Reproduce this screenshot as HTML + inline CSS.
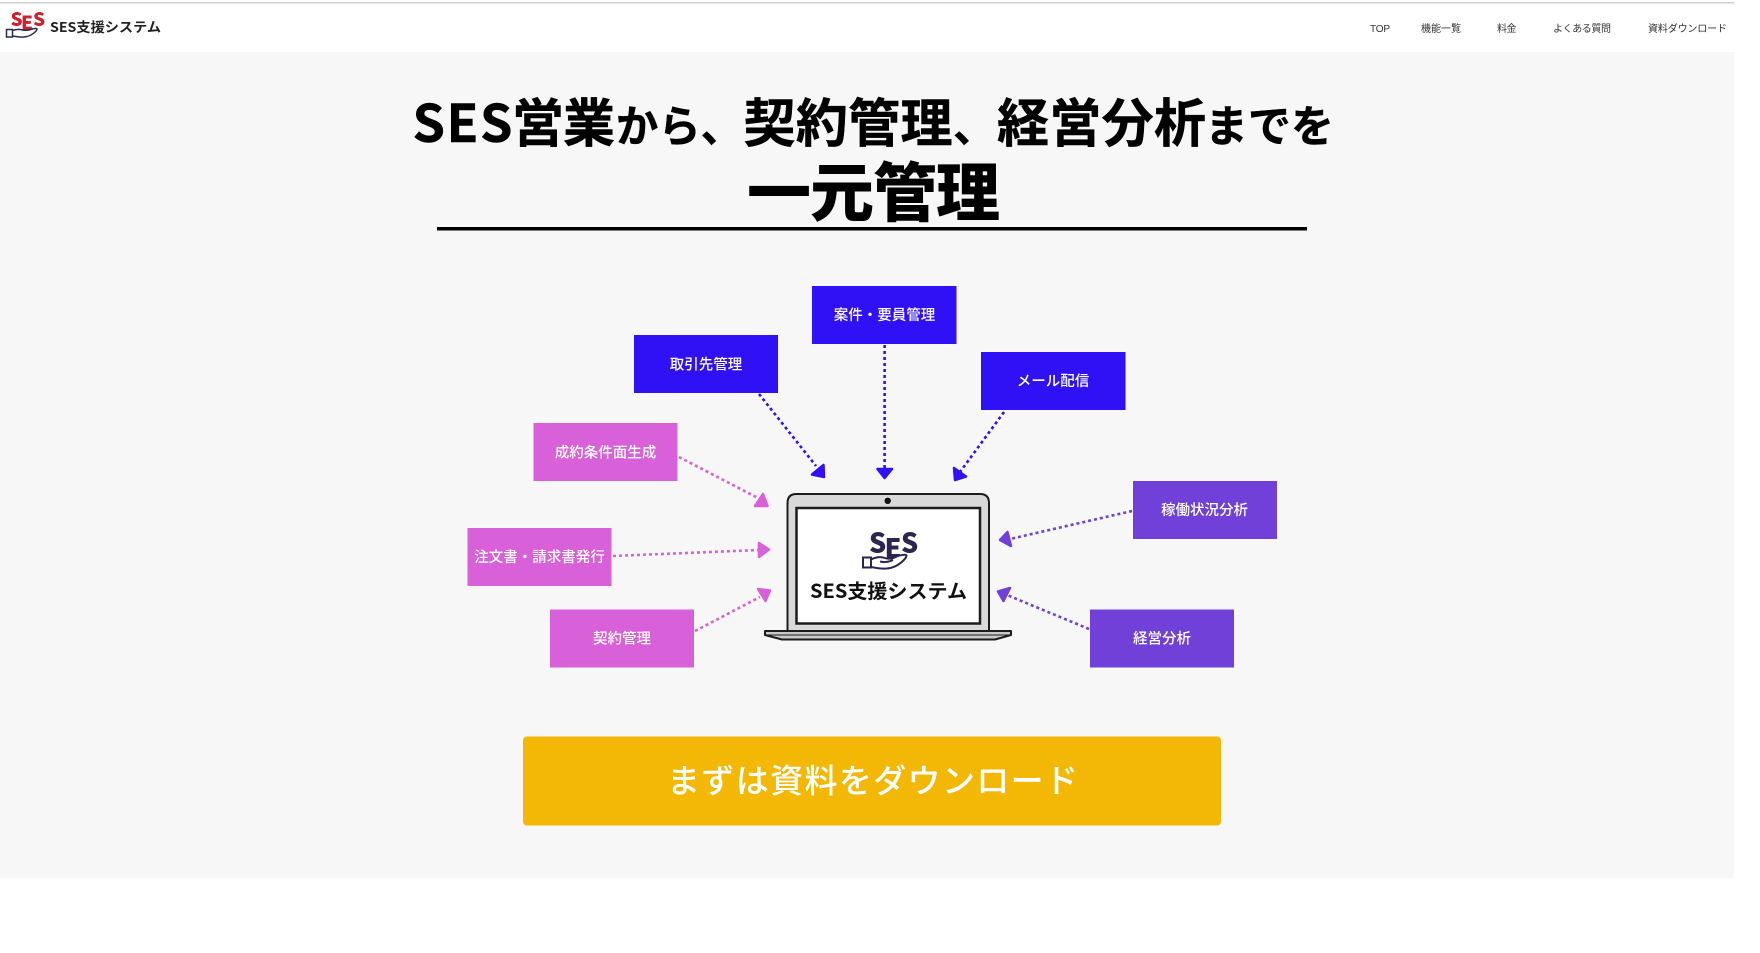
<!DOCTYPE html>
<html lang="ja">
<head>
<meta charset="utf-8">
<title>SES支援システム</title>
<style>
html,body{margin:0;padding:0;background:#fff;width:1760px;height:953px;overflow:hidden}
svg{display:block}
text{font-family:"Liberation Sans","Noto Sans CJK JP",sans-serif}
.jp{font-family:"Noto Sans CJK JP","Liberation Sans",sans-serif}
.lb{font-size:14.5px;font-weight:500;fill:#fff;text-anchor:middle}
.nav{font-size:10px;fill:#333}
.t{font-size:52px;font-weight:700;fill:#000;stroke:#000;stroke-width:.5px}
.k{font-size:43.5px;font-weight:700;fill:#000;stroke:#000;stroke-width:.4px}
</style>
</head>
<body>
<svg width="1760" height="953" viewBox="0 0 1760 953" xmlns="http://www.w3.org/2000/svg">
<rect width="1760" height="953" fill="#fff"/>
<rect x="0" y="52" width="1734" height="826" fill="#f7f7f7"/>
<rect x="0" y="2" width="1734" height="1.5" fill="#cfcfcf"/>

<!-- header logo -->
<text class="jp" x="10.500" y="26" font-size="19" font-weight="900" fill="#d0202e">S</text>
<text class="jp" x="21" y="29.500" font-size="19" font-weight="900" fill="#d0202e">E</text>
<text class="jp" x="33" y="26" font-size="19" font-weight="900" fill="#d0202e">S</text>
<path d="M6.500 29.500h6v7.500h-6z M12.500 30.500c4-1.500 7-1.500 10-.5 3 .5 5 .5 8-.5 3-1 6.500-1.500 6.500-.5 0 2-6 7.500-13 8-5 .5-8-.5-11.500-1z" fill="none" stroke="#2d2a55" stroke-width="1.500"/>
<text class="jp" x="50" y="32" font-size="13.500" font-weight="700" fill="#222" textLength="111" lengthAdjust="spacingAndGlyphs">SES支援システム</text>

<!-- nav -->
<text class="nav" x="1370" y="32" textLength="20">TOP</text>
<text class="nav jp" x="1421" y="32" textLength="40">機能一覧</text>
<text class="nav jp" x="1497" y="32" textLength="19.500">料金</text>
<text class="nav jp" x="1553" y="32" textLength="58">よくある質問</text>
<text class="nav jp" x="1648" y="32" textLength="79">資料ダウンロード</text>

<!-- title -->
<text class="t jp" x="412.500" y="142" textLength="100">SES</text>
<text class="t jp" x="512" y="142" textLength="103">営業</text>
<text class="k jp" x="616" y="142" textLength="127" lengthAdjust="spacingAndGlyphs">から、</text>
<text class="t jp" x="743.500" y="142" textLength="209">契約管理</text>
<text class="k jp" x="953" y="142">、</text>
<text class="t jp" x="997" y="142" textLength="209">経営分析</text>
<text class="k jp" x="1205" y="142" textLength="129" lengthAdjust="spacingAndGlyphs">までを</text>
<text class="jp" x="747" y="216" font-size="64" font-weight="900" fill="#000" textLength="253">一元管理</text>
<rect x="437" y="227" width="870" height="3.500" fill="#000"/>

<!-- boxes -->
<rect x="812" y="286" width="144.500" height="58" fill="#3010f5"/>
<text class="lb jp" x="884.500" y="320">案件・要員管理</text>
<rect x="634" y="335" width="144" height="58" fill="#3010f5"/>
<text class="lb jp" x="706" y="369.500">取引先管理</text>
<rect x="981" y="352" width="144.500" height="58" fill="#3010f5"/>
<text class="lb jp" x="1053" y="386">メール配信</text>
<rect x="533.500" y="423" width="144" height="58" fill="#d860d8"/>
<text class="lb jp" x="605.500" y="457.500">成約条件面生成</text>
<rect x="467.500" y="528" width="144" height="58" fill="#d860d8"/>
<text class="lb jp" x="539.500" y="562">注文書・請求書発行</text>
<rect x="550" y="609.500" width="144" height="58" fill="#d860d8"/>
<text class="lb jp" x="622" y="643.500">契約管理</text>
<rect x="1133" y="481" width="144" height="58" fill="#7040d8"/>
<text class="lb jp" x="1204.500" y="515">稼働状況分析</text>
<rect x="1090" y="609.500" width="144" height="58" fill="#7040d8"/>
<text class="lb jp" x="1162" y="643.500">経営分析</text>

<!-- connectors -->
<g fill="none" stroke-width="2.600" stroke-dasharray="3 3">
<path d="M759 394L816 466" stroke="#3010f5"/>
<path d="M884.600 345V468" stroke="#3010f5"/>
<path d="M1004 412L960 472" stroke="#3010f5"/>
<path d="M679 457L758 498" stroke="#d860d8"/>
<path d="M613 556L758 550" stroke="#d860d8"/>
<path d="M695 631L760 597" stroke="#d860d8"/>
<path d="M1132 511L1010 539" stroke="#7040d8"/>
<path d="M1089 629L1007 595" stroke="#7040d8"/>
</g>
<g stroke-width="2.500" stroke-linejoin="round">
<polygon points="823.500,465 824,477 812,474.500" fill="#3010f5" stroke="#3010f5"/>
<polygon points="877.500,469 892,469 884.600,478" fill="#3010f5" stroke="#3010f5"/>
<polygon points="954,468 966,476.500 955,480" fill="#3010f5" stroke="#3010f5"/>
<polygon points="763,494 767.500,506 755,506" fill="#d860d8" stroke="#d860d8"/>
<polygon points="759,543 769,549.500 759,557" fill="#d860d8" stroke="#d860d8"/>
<polygon points="758,589 770,590.500 765.500,601" fill="#d860d8" stroke="#d860d8"/>
<polygon points="1007.500,532 1000,540 1011,546" fill="#7040d8" stroke="#7040d8"/>
<polygon points="1010,588 998,591.500 1003.500,601" fill="#7040d8" stroke="#7040d8"/>
</g>

<!-- laptop -->
<path d="M787.500 631V503q0-9 9-9H980q9 0 9 9V631z" fill="#d8d9d8" stroke="#1c1c1c" stroke-width="2"/>
<rect x="796.500" y="508" width="183.500" height="115.500" fill="#fff" stroke="#1c1c1c" stroke-width="2.500"/>
<circle cx="887.700" cy="500.800" r="3.200" fill="#111"/>
<path d="M765 631H1011V635L995 639.500H782L765 635z" fill="#c9cac9" stroke="#1c1c1c" stroke-width="2" stroke-linejoin="round"/>
<path d="M765 635H1011" stroke="#1c1c1c" stroke-width="1" fill="none"/>

<!-- screen logo -->
<text class="jp" x="869" y="552.500" font-size="27" font-weight="900" fill="#2d2550">S</text>
<text class="jp" x="884.500" y="558" font-size="27" font-weight="900" fill="#2d2550">E</text>
<text class="jp" x="901" y="552.500" font-size="27" font-weight="900" fill="#2d2550">S</text>
<path d="M863 557.500h8v10h-8z M871 559.500c5-2.500 10-3 14-1.500 4 1.500 7 1 10.500-1 4-2 11-3 11-1.500 0 3-9 12.500-20 13-6 .5-10.500-.5-15.500-1.500z M880 561.500c4 1 9 .5 13-1.500" fill="#fff" stroke="#2d2550" stroke-width="2"/>
<text class="jp" x="810" y="598" font-size="19.500" font-weight="700" fill="#111" textLength="157" lengthAdjust="spacingAndGlyphs">SES支援システム</text>

<!-- button -->
<rect x="523" y="736.500" width="698" height="89" rx="4" ry="4" fill="#f3b805"/>
<text class="jp" x="667" y="792.500" font-size="33" font-weight="500" fill="#fff" textLength="411" lengthAdjust="spacing">まずは資料をダウンロード</text>
</svg>
</body>
</html>
